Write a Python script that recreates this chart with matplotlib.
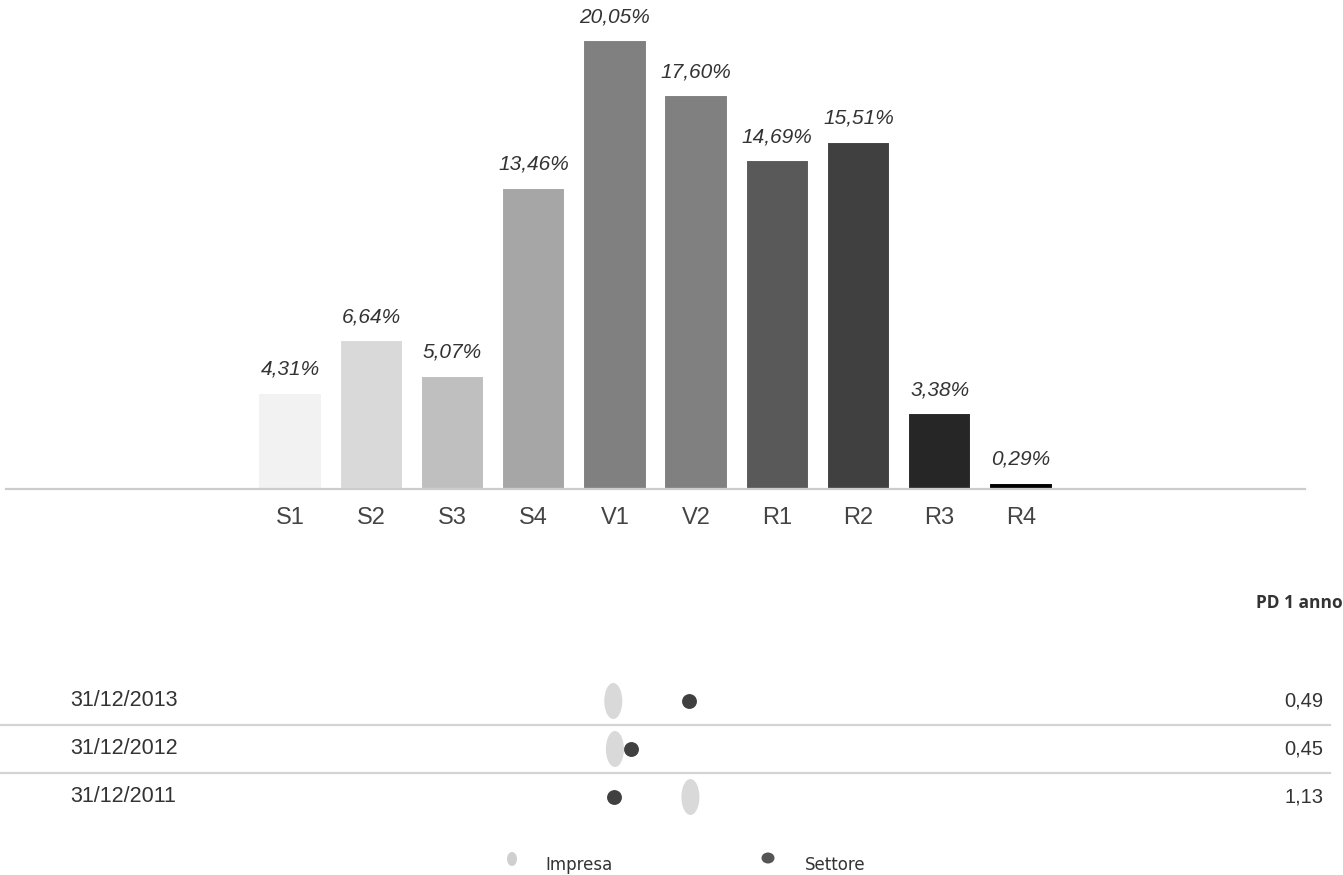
import matplotlib.pyplot as plt
from matplotlib.patches import Ellipse
from matplotlib.transforms import blended_transform_factory

# rating class distribution
classes = ["S1", "S2", "S3", "S4", "V1", "V2", "R1", "R2", "R3", "R4"]
shares = [4.31, 6.64, 5.07, 13.46, 20.05, 17.60, 14.69, 15.51, 3.38, 0.29]
bar_colors = ["#f2f2f2", "#d9d9d9", "#bfbfbf", "#a6a6a6", "#808080",
              "#808080", "#595959", "#404040", "#262626", "#000000"]

# PD table: position of markers on the class scale (bar index units)
dates = ["31/12/2013", "31/12/2012", "31/12/2011"]
impresa_pos = [3.98, 4.0, 4.93]
settore_pos = [4.91, 4.2, 3.99]
pd_1y = ["0,49", "0,45", "1,13"]

W, H = 1343, 875
TXT = "#333333"
SANS = ["Liberation Sans", "DejaVu Sans"]


def fx(px):
    return px / W


def fy(py):
    return 1 - py / H


def fmt_pct(v):
    return f"{v:.2f}%".replace(".", ",")


fig = plt.figure(figsize=(W / 100, H / 100), dpi=100)
fig.patch.set_facecolor("white")

# --- bar chart ---
ax = fig.add_axes([fx(6), fy(489), fx(1299), 470 / H])
x = range(len(classes))
bars = ax.bar(x, shares, width=0.78, color=bar_colors, edgecolor="white",
              linewidth=1.5, zorder=2)
for b, v in zip(bars, shares):
    ax.annotate(fmt_pct(v), (b.get_x() + b.get_width() / 2, v),
                xytext=(0, 10), textcoords="offset points",
                ha="center", va="bottom", fontsize=15, style="italic",
                color=TXT, family=SANS)

ax.set_xlim(-3.5, 12.5)
ax.set_ylim(0, 21)
ax.set_xticks(list(x))
ax.set_xticklabels(classes, fontsize=17, color="#444444", family=SANS)
ax.tick_params(axis="x", length=0, pad=13)
ax.set_yticks([])
for s in ["top", "right", "left"]:
    ax.spines[s].set_visible(False)
ax.spines["bottom"].set_color("#cccccc")
ax.spines["bottom"].set_linewidth(1.6)
ax.patch.set_alpha(0)

# --- PD table ---
row_px = 48
ax2 = fig.add_axes([fx(6), 0, fx(1299), 285 / H])
ax2.set_xlim(-3.5, 12.5)
ax2.set_ylim((875 - 701) / row_px, (590 - 701) / row_px)
ax2.axis("off")

tr = blended_transform_factory(fig.transFigure, ax2.transData)
for i, d in enumerate(dates):
    ax2.text(fx(70), i, d, transform=tr, ha="left", va="center",
             fontsize=15.5, color=TXT, family=SANS)
    ax2.text(fx(1323), i, pd_1y[i], transform=tr, ha="right", va="center",
             fontsize=14.5, color=TXT, family=SANS)
    ax2.add_patch(Ellipse((impresa_pos[i], i), width=18 / 81.2, height=36 / row_px,
                          facecolor="#d9d9d9", edgecolor="none", zorder=2))
ax2.scatter(settore_pos, range(len(dates)), s=115, color="#404040",
            zorder=3, linewidths=0)
for i in range(len(dates) - 1):
    ax2.plot([0, fx(1330)], [i + 0.5, i + 0.5], transform=tr,
             color="#d4d4d4", lw=1.6, clip_on=False)

fig.text(fx(1343), fy(603), "PD 1 anno", ha="right", va="center",
         fontsize=12.5, fontweight="bold", color=TXT,
         family=["Open Sans", "DejaVu Sans"])

# --- legend ---
ov = fig.add_axes([0, 0, 1, 1])
ov.set_xlim(0, W)
ov.set_ylim(H, 0)
ov.axis("off")
ov.add_patch(Ellipse((512, 859), 10, 14, facecolor="#cfcfcf", edgecolor="none"))
ov.add_patch(Ellipse((768, 858), 13, 11, facecolor="#555555", edgecolor="none"))
ov.text(545, 865, "Impresa", ha="left", va="center", fontsize=12,
        color=TXT, family="DejaVu Sans")
ov.text(805, 865, "Settore", ha="left", va="center", fontsize=12,
        color=TXT, family="DejaVu Sans")

fig.savefig("out.png", dpi=100)
